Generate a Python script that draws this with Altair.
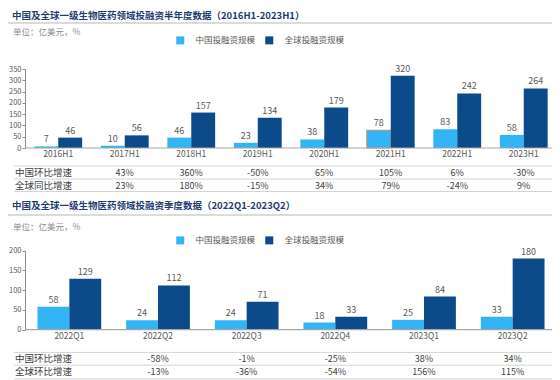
import altair as alt
import pandas as pd

FONT = "Noto Sans CJK SC"
LIGHT = "#33b5f5"
DARK = "#0c4a8a"
SERIES = ["中国投融资规模", "全球投融资规模"]

# ---- half-year data ----
periods = ["2016H1", "2017H1", "2018H1", "2019H1", "2020H1", "2021H1", "2022H1", "2023H1"]
china_h = [7, 10, 46, 23, 38, 78, 83, 58]
global_h = [46, 56, 157, 134, 179, 320, 242, 264]
china_hoh = ["", "43%", "360%", "-50%", "65%", "105%", "6%", "-30%"]
global_yoy = ["", "23%", "180%", "-15%", "34%", "79%", "-24%", "9%"]
rows_h = ["中国环比增速", "全球同比增速"]
title_h = "中国及全球一级生物医药领域投融资半年度数据（2016H1-2023H1）"

# ---- quarterly data ----
quarters = ["2022Q1", "2022Q2", "2022Q3", "2022Q4", "2023Q1", "2023Q2"]
china_q = [58, 24, 24, 18, 25, 33]
global_q = [129, 112, 71, 33, 84, 180]
china_qoq = ["", "-58%", "-1%", "-25%", "38%", "34%"]
global_qoq = ["", "-13%", "-36%", "-54%", "156%", "115%"]
rows_q = ["中国环比增速", "全球环比增速"]
title_q = "中国及全球一级生物医药领域投融资季度数据（2022Q1-2023Q2）"

unit_text = "单位：亿美元，%"

dummy = pd.DataFrame({"a": [0]})


def hline(y, x0, x1, color, width):
    return alt.Chart(dummy).mark_rule(color=color, strokeWidth=width).encode(
        x=alt.value(x0), x2=alt.value(x1), y=alt.value(y)
    )


def label(text, x, y, size, color, weight="normal"):
    return alt.Chart(pd.DataFrame({"t": [text]})).mark_text(
        align="left", baseline="middle", fontSize=size, color=color, fontWeight=weight, font=FONT
    ).encode(x=alt.value(x), y=alt.value(y), text="t:N")


def panel(cats, china, glob, r1, r2, rownames, title, ymax, ystep, g, hl=None):
    bars = pd.DataFrame({
        "period": cats * 2,
        "series": [SERIES[0]] * len(cats) + [SERIES[1]] * len(cats),
        "value": china + glob,
    })
    table = pd.DataFrame({"period": cats, "r1": r1, "r2": r2})

    xs = alt.Scale(domain=cats, range=[0, 532], paddingInner=0.281, paddingOuter=0.1405)
    ys = alt.Scale(domain=[0, ymax], range=[g["y0"], g["y1"]], nice=False, zero=True)
    xenc = alt.X("period:N", scale=xs, axis=None, sort=cats)
    xo = alt.XOffset("series:N", scale=alt.Scale(domain=SERIES), sort=SERIES)
    yenc = alt.Y("value:Q", scale=ys, title=None,
                 axis=alt.Axis(orient="left", values=list(range(0, ymax + 1, ystep)), grid=False,
                               labelFontSize=7.5, labelColor="#595959", labelFont=FONT,
                               domainColor="#8c8c8c", tickColor="#8c8c8c", tickSize=3,
                               labelPadding=1))

    if hl is not None:
        stroke = alt.condition(
            (alt.datum.period == hl) & (alt.datum.series == SERIES[0]),
            alt.value("#a89a86"), alt.value("transparent"))
    else:
        stroke = alt.value("transparent")

    bar = alt.Chart(bars).mark_bar(strokeWidth=1.2).encode(
        x=xenc, xOffset=xo, y=yenc,
        color=alt.Color("series:N", scale=alt.Scale(domain=SERIES, range=[LIGHT, DARK]), sort=SERIES,
                        legend=alt.Legend(orient="none", legendX=151, legendY=g["leg"], direction="horizontal",
                                          title=None, symbolType="square", symbolSize=64, symbolStrokeWidth=0,
                                          labelFontSize=8.5, labelFont=FONT, labelColor="#595959",
                                          labelOffset=11, columnPadding=9)),
        stroke=stroke,
    )
    vals = alt.Chart(bars).mark_text(dy=-7, fontSize=9, color="#595959", font=FONT).encode(
        x=xenc, xOffset=xo, y=alt.Y("value:Q"), text="value:Q"
    )
    base = alt.Chart(dummy).mark_rule(color="#a6a6a6", strokeWidth=1.2).encode(
        y=alt.datum(0), x=alt.value(0), x2=alt.value(532)
    )
    catlab = alt.Chart(table).mark_text(fontSize=8.5, color="#595959", font=FONT, baseline="middle").encode(
        x=xenc, y=alt.value(g["cat"]), text="period:N"
    )
    t1 = alt.Chart(table).mark_text(fontSize=9, color="#404040", font=FONT, baseline="middle").encode(
        x=xenc, y=alt.value(g["r1"]), text="r1:N"
    )
    t2 = alt.Chart(table).mark_text(fontSize=9, color="#404040", font=FONT, baseline="middle").encode(
        x=xenc, y=alt.value(g["r2"]), text="r2:N"
    )
    layers = [
        bar, base, vals, catlab, t1, t2,
        label(title, -13, g["title"], 9.5, "#1f3b73", "bold"),
        hline(g["tline"], -17, 531, "#cfcfcf", 1.5),
        label(unit_text, -12, g["unit"], 8.5, "#8c8c8c"),
        label(rownames[0], -10, g["r1"], 9.5, "#404040"),
        label(rownames[1], -10, g["r2"], 9.5, "#404040"),
    ]
    for ly in g["lines"]:
        layers.append(hline(ly, -11, 531, "#d4d4d4", 1))
    return alt.layer(*layers)


g_top = dict(title=7.5, tline=15, unit=24, leg=28, y0=140, y1=61, cat=146,
             r1=164.8, r2=177.8, lines=[158, 171, 183.5])
g_bot = dict(title=198, tline=207, unit=219, leg=228, y0=321.7, y1=242.7, cat=327.6,
             r1=350.5, r2=364.3, lines=[344.4, 357.2, 370.8])

top = panel(periods, china_h, global_h, china_hoh, global_yoy, rows_h, title_h, 350, 50, g_top, hl="2021H1")
bottom = panel(quarters, china_q, global_q, china_qoq, global_qoq, rows_q, title_q, 200, 50, g_bot)

chart = alt.layer(top, bottom).resolve_scale(
    x="independent", y="independent", xOffset="independent", color="independent"
).resolve_legend(color="independent").properties(
    width=527, height=372, autosize="none",
    padding={"left": 17, "top": 0, "right": 0, "bottom": 0},
).configure(font=FONT).configure_view(strokeWidth=0)

chart.save("out.html", embed_options={"renderer": "svg", "actions": False})
